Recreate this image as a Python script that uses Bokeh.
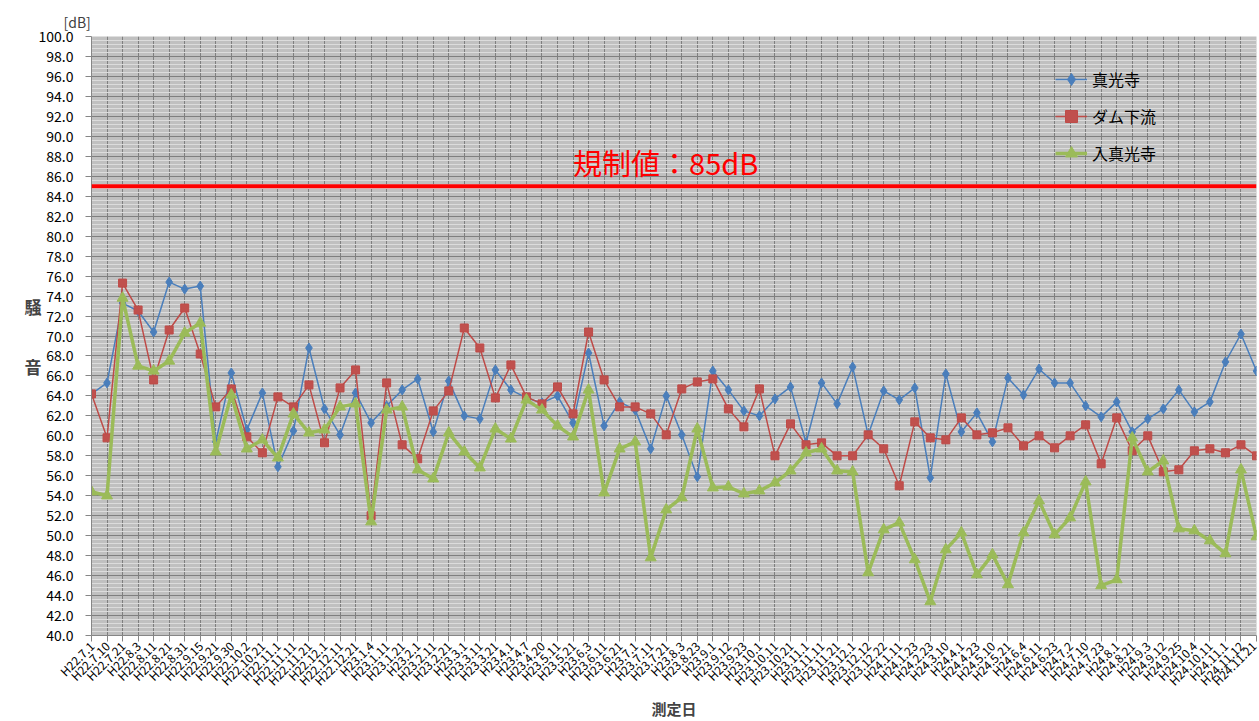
from bokeh.plotting import figure
from bokeh.models import (Range1d, FixedTicker, SingleIntervalTicker, NumeralTickFormatter,
                          Span, Label, Legend, LegendItem)
from bokeh.embed import file_html
from bokeh.resources import INLINE

dates = ["H22.7.1", "H22.7.10", "H22.7.21", "H22.8.3", "H22.8.11", "H22.8.21", "H22.8.31",
         "H22.9.15", "H22.9.21", "H22.9.30", "H22.10.2", "H22.10.21", "H22.11.1", "H22.11.11",
         "H22.11.21", "H22.12.1", "H22.12.11", "H22.12.21", "H23.1.4", "H23.1.11", "H23.1.21",
         "H23.2.1", "H23.2.11", "H23.2.21", "H23.3.1", "H23.3.11", "H23.3.21", "H23.4.1",
         "H23.4.7", "H23.4.20", "H23.5.11", "H23.5.21", "H23.6.3", "H23.6.11", "H23.6.21",
         "H23.7.1", "H23.7.11", "H23.7.21", "H23.8.3", "H23.8.23", "H23.9.1", "H23.9.12",
         "H23.9.23", "H23.10.1", "H23.10.11", "H23.10.21", "H23.11.1", "H23.11.11", "H23.11.21",
         "H23.12.1", "H23.12.12", "H23.12.22", "H24.1.11", "H24.1.23", "H24.2.23", "H24.3.10",
         "H24.4.1", "H24.4.23", "H24.5.10", "H24.5.21", "H24.6.4", "H24.6.11", "H24.6.23",
         "H24.7.2", "H24.7.10", "H24.7.23", "H24.8.1", "H24.8.21", "H24.9.3", "H24.9.12",
         "H24.9.25", "H24.10.4", "H24.10.11", "H24.11.1", "H24.11.12", "H24.11.21"]

shinkoji = [64.2, 65.3, 73.3, 72.5, 70.4, 75.4, 74.7, 75.0, 59.4, 66.3,
            60.6, 64.3, 56.9, 60.5, 68.8, 62.7, 60.1, 64.3, 61.3, 63.0,
            64.6, 65.7, 60.4, 65.5, 62.0, 61.7, 66.6, 64.6, 63.8, 63.3,
            64.0, 61.3, 68.3, 61.0, 63.4, 62.6, 58.7, 64.0, 60.1, 55.9,
            66.5, 64.6, 62.5, 62.0, 63.7, 64.9, 59.3, 65.3, 63.2, 66.9,
            60.1, 64.5, 63.6, 64.8, 55.8, 66.2, 60.4, 62.3, 59.4, 65.8,
            64.1, 66.7, 65.3, 65.3, 63.0, 61.9, 63.4, 60.4, 61.7, 62.7,
            64.6, 62.4, 63.4, 67.4, 70.2, 66.5]

dam_karyu = [64.2, 59.8, 75.3, 72.6, 65.6, 70.6, 72.8, 68.2, 62.9, 64.7,
             59.9, 58.3, 63.9, 62.9, 65.1, 59.3, 64.8, 66.6, 52.0, 65.3,
             59.1, 57.7, 62.5, 64.5, 70.8, 68.8, 63.8, 67.1, 63.9, 63.2,
             64.9, 62.2, 70.4, 65.6, 62.9, 62.9, 62.2, 60.1, 64.7, 65.4,
             65.7, 62.7, 60.9, 64.7, 58.0, 61.2, 59.1, 59.3, 58.0, 58.0,
             60.1, 58.7, 55.0, 61.4, 59.8, 59.6, 61.8, 60.1, 60.3, 60.8,
             59.0, 60.0, 58.8, 60.0, 61.1, 57.2, 61.8, 58.5, 60.0, 56.4,
             56.6, 58.5, 58.7, 58.3, 59.1, 58.0]

iri_shinkoji = [54.4, 54.0, 73.8, 67.0, 66.5, 67.5, 70.3, 71.3, 58.4, 64.1,
                58.7, 59.6, 57.8, 62.2, 60.3, 60.6, 62.9, 63.2, 51.4, 62.6,
                62.9, 56.6, 55.7, 60.3, 58.4, 56.8, 60.7, 59.7, 63.6, 62.6,
                61.0, 59.9, 64.6, 54.3, 58.7, 59.4, 47.8, 52.6, 53.8, 60.7,
                54.8, 54.9, 54.2, 54.5, 55.3, 56.5, 58.3, 58.7, 56.5, 56.4,
                46.3, 50.6, 51.3, 47.6, 43.4, 48.6, 50.3, 46.1, 48.1, 45.1,
                50.3, 53.5, 50.1, 51.8, 55.4, 45.0, 45.6, 59.8, 56.4, 57.5,
                50.7, 50.5, 49.5, 48.2, 56.6, 49.9]

series_names = ["真光寺", "ダム下流", "入真光寺"]
limit_value = 85.0
limit_text = "規制値：85dB"

FONT = "Noto Sans CJK JP"
idx = list(range(len(dates)))

p = figure(width=1259, height=721, output_backend="svg", toolbar_location=None,
           x_range=Range1d(0, len(dates) - 1), y_range=Range1d(40, 100),
           min_border_left=91, min_border_right=3, min_border_top=36, min_border_bottom=85,
           title="[dB]")
p.background_fill_color = "#c0c0c0"
p.border_fill_color = "white"
p.outline_line_color = None

p.title.align = "left"
p.title.offset = -28
p.title.text_font = FONT
p.title.text_font_size = "14px"
p.title.text_font_style = "normal"
p.title.text_color = "#404040"
p.title.standoff = 10

# axes
p.yaxis.ticker = SingleIntervalTicker(interval=2, num_minor_ticks=5)
p.yaxis.formatter = NumeralTickFormatter(format="0.0")
p.yaxis.major_label_text_font = FONT
p.yaxis.major_label_text_font_size = "14px"
p.yaxis.major_label_text_color = "black"
p.yaxis.major_label_standoff = 12
p.yaxis.axis_line_color = "#868686"
p.yaxis.major_tick_line_color = "#868686"
p.yaxis.major_tick_out = 6
p.yaxis.major_tick_in = 0
p.yaxis.minor_tick_line_color = None
p.yaxis.axis_label = "騒\n\n音"
p.yaxis.axis_label_orientation = "horizontal"
p.yaxis.axis_label_text_font = FONT
p.yaxis.axis_label_text_font_size = "17px"
p.yaxis.axis_label_text_font_style = "bold"
p.yaxis.axis_label_standoff = -6

p.xaxis.ticker = FixedTicker(ticks=idx)
p.xaxis.major_label_overrides = {i: d for i, d in enumerate(dates)}
p.xaxis.major_label_orientation = 0.785398
p.xaxis.major_label_text_font = FONT
p.xaxis.major_label_text_font_size = "12px"
p.xaxis.major_label_text_color = "black"
p.xaxis.major_label_standoff = 2
p.xaxis.axis_line_color = "#868686"
p.xaxis.major_tick_line_color = "#868686"
p.xaxis.major_tick_out = 6
p.xaxis.major_tick_in = 0
p.xaxis.minor_tick_line_color = None
p.xaxis.axis_label = "測定日"
p.xaxis.axis_label_text_font = FONT
p.xaxis.axis_label_text_font_size = "15px"
p.xaxis.axis_label_text_font_style = "bold"
p.xaxis.axis_label_standoff = 0

# grids
p.ygrid.grid_line_color = "#7f7f7f"
p.ygrid.grid_line_width = 1
p.ygrid.minor_grid_line_color = "#dcdcdc"
p.ygrid.minor_grid_line_width = 1
p.xgrid.grid_line_color = "#7f7f7f"
p.xgrid.grid_line_width = 1

# regulation line
p.add_layout(Span(location=limit_value, dimension="width", line_color="#ff0000", line_width=4))
p.add_layout(Label(x=31.0, y=87.4, text=limit_text, text_color="#ff0000", text_font=FONT,
                   text_font_size="29px", text_baseline="middle"))

# series
colors = ["#4a7ebb", "#be4b48", "#9bbb59"]
r1 = p.line(idx, shinkoji, line_color=colors[0], line_width=1.5)
s1 = p.scatter(idx, shinkoji, marker="diamond", size=10, fill_color=colors[0], line_color=colors[0])
r2 = p.line(idx, dam_karyu, line_color=colors[1], line_width=1.5)
s2 = p.scatter(idx, dam_karyu, marker="square", size=8, fill_color="#c0504d", line_color=colors[1])
r3 = p.line(idx, iri_shinkoji, line_color=colors[2], line_width=3.5)
s3 = p.scatter(idx, iri_shinkoji, marker="triangle", size=11, fill_color=colors[2], line_color=colors[2])

legend = Legend(items=[LegendItem(label=series_names[0], renderers=[r1, s1]),
                       LegendItem(label=series_names[1], renderers=[r2, s2]),
                       LegendItem(label=series_names[2], renderers=[r3, s3])],
                location=(964, 467))
legend.background_fill_alpha = 0
legend.border_line_color = None
legend.label_text_font = FONT
legend.label_text_font_size = "16px"
legend.label_text_color = "black"
legend.glyph_width = 32
legend.label_height = 30
legend.glyph_height = 30
legend.spacing = 7
legend.padding = 0
legend.margin = 0
p.add_layout(legend, "center")

open("out.html", "w").write(file_html(p, INLINE))
